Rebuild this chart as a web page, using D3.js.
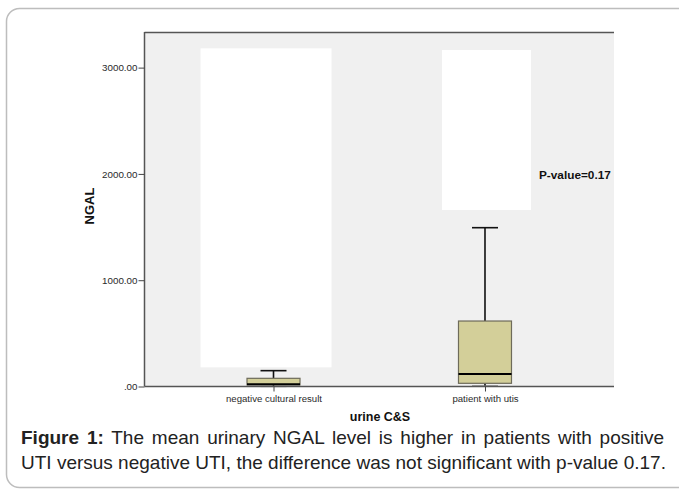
<!DOCTYPE html>
<html><head><meta charset="utf-8">
<script src="https://cdn.jsdelivr.net/npm/d3@7"></script>
<style>
html,body{margin:0;padding:0;background:#fff;}
svg{display:block;font-family:"Liberation Sans",Arial,sans-serif;}
</style></head>
<body>
<svg id="c" width="679" height="490"></svg>
<script>
// ---- data ----
const categories = ["negative cultural result", "patient with utis"];
const whiskerLow  = [0, 5];
const q1          = [15, 30];
const median      = [20, 118];
const q3          = [77, 616];
const whiskerHigh = [149, 1494];
const yTicks      = [0, 1000, 2000, 3000];
// blank (white) panels in the original image, value ranges
const blankLow  = [180, 1660];
const blankHigh = [3181, 3166];
const pText = "P-value=0.17";
const xTitle = "urine C&S";
const yTitle = "NGAL";
const captionBold = "Figure 1:";
const captionLine1 = " The mean urinary NGAL level is higher in patients with positive";
const captionLine2 = "UTI versus negative UTI, the difference was not significant with p-value 0.17.";

// ---- layout ----
const svg = d3.select("#c");
const L = 144.5, R = 614, T = 32, B = 386.5;
const x = d3.scalePoint().domain(categories).range([L, R]).padding(0.61);
const y = d3.scaleLinear().domain([0, 3335]).range([B, T]);
const boxW = 53, capW = 26;
const blankOffsets = [[-73, 58], [-43, 46]];

// outer rounded border
svg.append("rect").attr("x", 6.5).attr("y", 8.5).attr("width", 685).attr("height", 479)
  .attr("rx", 13).attr("fill", "none").attr("stroke", "#bdbdbd").attr("stroke-width", 1.5);

// plot background
svg.append("rect").attr("x", L).attr("y", T).attr("width", R - L).attr("height", B - T)
  .attr("fill", "#f0f0f0");

// blank panels
svg.selectAll("rect.blank").data(categories).join("rect").attr("class", "blank")
  .attr("x", (d, i) => x(d) + blankOffsets[i][0])
  .attr("width", (d, i) => blankOffsets[i][1] - blankOffsets[i][0])
  .attr("y", (d, i) => y(blankHigh[i]))
  .attr("height", (d, i) => y(blankLow[i]) - y(blankHigh[i]))
  .attr("fill", "#ffffff");

// top border
svg.append("line").attr("x1", L).attr("x2", R).attr("y1", T + 0.5).attr("y2", T + 0.5)
  .attr("stroke", "#555").attr("stroke-width", 1.5);

// boxes
const g = svg.append("g");
categories.forEach((c, i) => {
  const cx = x(c);
  g.append("line").attr("x1", cx).attr("x2", cx).attr("y1", y(q3[i])).attr("y2", y(whiskerHigh[i]))
    .attr("stroke", "#111").attr("stroke-width", 1.6);
  g.append("line").attr("x1", cx - capW / 2).attr("x2", cx + capW / 2)
    .attr("y1", y(whiskerHigh[i])).attr("y2", y(whiskerHigh[i]))
    .attr("stroke", "#111").attr("stroke-width", 1.6);
  g.append("line").attr("x1", cx).attr("x2", cx).attr("y1", y(q1[i])).attr("y2", y(whiskerLow[i]))
    .attr("stroke", "#111").attr("stroke-width", 1.6);
  g.append("line").attr("x1", cx - capW / 2).attr("x2", cx + capW / 2)
    .attr("y1", y(whiskerLow[i])).attr("y2", y(whiskerLow[i]))
    .attr("stroke", "#777").attr("stroke-width", 1.2);
  g.append("rect").attr("x", cx - boxW / 2).attr("width", boxW)
    .attr("y", y(q3[i])).attr("height", y(q1[i]) - y(q3[i]))
    .attr("fill", "#d3cf99").attr("stroke", "#6e6b5a").attr("stroke-width", 1.2);
  g.append("line").attr("x1", cx - boxW / 2).attr("x2", cx + boxW / 2)
    .attr("y1", y(median[i])).attr("y2", y(median[i]))
    .attr("stroke", "#000").attr("stroke-width", 2);
});

// y axis
const yAxis = d3.axisLeft(y).tickValues(yTicks).tickSize(6).tickPadding(1)
  .tickFormat(d => d3.format(".2f")(d).replace(/^0\./, "."));
const ya = svg.append("g").attr("transform", `translate(${L},0)`).call(yAxis);
ya.select(".domain").attr("stroke", "#555").attr("stroke-width", 1.5)
  .attr("d", `M0,${T}V${B}`);
ya.selectAll(".tick line").attr("stroke", "#444");
ya.selectAll(".tick text").attr("font-size", 9.8).attr("fill", "#2a2a2a")
  .attr("font-family", "Liberation Sans, Arial, sans-serif");

// x axis
const xAxis = d3.axisBottom(x).tickSize(5).tickPadding(4);
const xa = svg.append("g").attr("transform", `translate(0,${B})`).call(xAxis);
xa.select(".domain").attr("stroke", "#555").attr("stroke-width", 1.3).attr("d", `M${L},0H${R}`);
xa.selectAll(".tick line").attr("stroke", "#444");
xa.selectAll(".tick text").attr("font-size", 9.6).attr("fill", "#2a2a2a")
  .attr("font-family", "Liberation Sans, Arial, sans-serif");

// titles
svg.append("text").attr("x", 380).attr("y", 421).attr("text-anchor", "middle")
  .attr("font-size", 12.5).attr("font-weight", "bold").attr("fill", "#111").text(xTitle);
svg.append("text").attr("transform", "translate(94,206) rotate(-90)").attr("text-anchor", "middle")
  .attr("font-size", 13).attr("font-weight", "bold").attr("fill", "#111").text(yTitle);

// p-value annotation
svg.append("text").attr("x", 539).attr("y", 179)
  .attr("font-size", 11.8).attr("font-weight", "bold").attr("fill", "#111").text(pText);

// caption
const capX = 21, capR = 664, capSize = 19;
const t1 = svg.append("text").attr("x", capX).attr("y", 444).attr("font-size", capSize).attr("fill", "#222");
t1.append("tspan").attr("font-weight", "bold").text(captionBold);
t1.append("tspan").text(captionLine1);
const w1 = t1.node().getComputedTextLength();
const spaces = (captionBold + captionLine1).split(" ").length - 1;
t1.attr("word-spacing", (capR - capX - w1) / spaces);
svg.append("text").attr("x", capX).attr("y", 469).attr("font-size", capSize).attr("fill", "#222")
  .text(captionLine2);
</script>
</body></html>
